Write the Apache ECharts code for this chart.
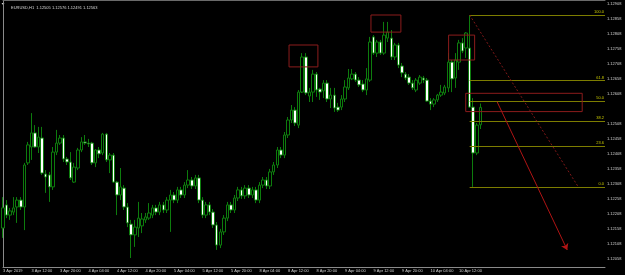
<!DOCTYPE html>
<html lang="en">
<head>
<meta charset="UTF-8">
<title>EURUSD,H1</title>
<style>
  html, body { margin: 0; padding: 0; background: #000; }
  #main { width: 625px; height: 275px; }
</style>
</head>
<body>
<div id="main"></div>
<script src="https://cdn.jsdelivr.net/npm/echarts@6/dist/echarts.min.js"></script>
<script>
// hourly bars (MT4 order: open, high, low, close)
var opens = [
  1.12161, 1.12238, 1.12204, 1.12214, 1.12231, 1.12254, 1.12231, 1.12378, 1.12431, 1.12478,
  1.12431, 1.12461, 1.12341, 1.12338, 1.12298, 1.12414, 1.12444, 1.12461, 1.12391, 1.12381,
  1.12314, 1.12361, 1.12421, 1.12448, 1.12444, 1.12444, 1.12378, 1.12421, 1.12411, 1.12474,
  1.12388, 1.12404, 1.12314, 1.12271, 1.12294, 1.12231, 1.12174, 1.12138, 1.12161, 1.12168,
  1.12188, 1.12194, 1.12204, 1.12228, 1.12214, 1.12238, 1.12221, 1.12254, 1.12271, 1.12254,
  1.12288, 1.12271, 1.12304, 1.12321, 1.12301, 1.12328, 1.12254, 1.12204, 1.12238, 1.12214,
  1.12171, 1.12104, 1.12148, 1.12194, 1.12238, 1.12221, 1.12261, 1.12288, 1.12268, 1.12294,
  1.12271, 1.12288, 1.12254, 1.12304, 1.12321, 1.12301, 1.12348, 1.12371, 1.12421, 1.12404,
  1.12471, 1.12521, 1.12554, 1.12504, 1.12614, 1.12731, 1.12601, 1.12614, 1.12674, 1.12624,
  1.12618, 1.12644, 1.12591, 1.12604, 1.12564, 1.12564, 1.12591, 1.12628, 1.12658, 1.12674,
  1.12654, 1.12641, 1.12621, 1.12654, 1.12798, 1.12744, 1.12781, 1.12744, 1.12794, 1.12794,
  1.12731, 1.12771, 1.12701, 1.12674, 1.12664, 1.12644, 1.12621, 1.12644, 1.12661, 1.12654,
  1.12584, 1.12574, 1.12588, 1.12604, 1.12611, 1.12628, 1.12714, 1.12661, 1.12714, 1.12778,
  1.12761, 1.12761, 1.12564, 1.12411, 1.12505
];
var highs = [
  1.12264, 1.12254, 1.12228, 1.12264, 1.12264, 1.12264, 1.12378, 1.12448, 1.12544, 1.12504,
  1.12498, 1.12498, 1.12354, 1.12348, 1.12431, 1.12488, 1.12471, 1.12471, 1.12398, 1.12414,
  1.12378, 1.12428, 1.12464, 1.12471, 1.12458, 1.12448, 1.12424, 1.12431, 1.12478, 1.12478,
  1.12411, 1.12411, 1.12318, 1.12361, 1.12304, 1.12244, 1.12188, 1.12188, 1.12248, 1.12211,
  1.12211, 1.12244, 1.12238, 1.12238, 1.12248, 1.12248, 1.12264, 1.12288, 1.12281, 1.12298,
  1.12298, 1.12314, 1.12354, 1.12331, 1.12338, 1.12338, 1.12264, 1.12248, 1.12248, 1.12224,
  1.12181, 1.12158, 1.12204, 1.12248, 1.12248, 1.12271, 1.12298, 1.12298, 1.12304, 1.12304,
  1.12298, 1.12298, 1.12314, 1.12331, 1.12331, 1.12358, 1.12381, 1.12431, 1.12431, 1.12481,
  1.12531, 1.12571, 1.12564, 1.12621, 1.12744, 1.12744, 1.12628, 1.12688, 1.12681, 1.12628,
  1.12654, 1.12654, 1.12628, 1.12628, 1.12578, 1.12604, 1.12654, 1.12691, 1.12691, 1.12681,
  1.12664, 1.12654, 1.12694, 1.12798, 1.12804, 1.12788, 1.12788, 1.12848, 1.12848, 1.12821,
  1.12778, 1.12778, 1.12711, 1.12681, 1.12674, 1.12654, 1.12661, 1.12671, 1.12668, 1.12661,
  1.12594, 1.12594, 1.12608, 1.12638, 1.12638, 1.12744, 1.12721, 1.12744, 1.12788, 1.12794,
  1.12814, 1.12871, 1.12594, 1.12511, 1.12576
];
var lows = [
  1.12128, 1.12194, 1.12188, 1.12204, 1.12178, 1.12221, 1.12154, 1.12371, 1.12388, 1.12428,
  1.12411, 1.12338, 1.12278, 1.12248, 1.12288, 1.12404, 1.12438, 1.12381, 1.12371, 1.12321,
  1.12311, 1.12354, 1.12414, 1.12438, 1.12431, 1.12371, 1.12364, 1.12394, 1.12404, 1.12381,
  1.12344, 1.12311, 1.12204, 1.12254, 1.12221, 1.12164, 1.12061, 1.12098, 1.12131, 1.12144,
  1.12178, 1.12188, 1.12194, 1.12204, 1.12204, 1.12211, 1.12211, 1.12148, 1.12244, 1.12244,
  1.12261, 1.12261, 1.12294, 1.12291, 1.12291, 1.12244, 1.12194, 1.12194, 1.12204, 1.12161,
  1.12088, 1.12094, 1.12138, 1.12184, 1.12211, 1.12211, 1.12251, 1.12258, 1.12258, 1.12261,
  1.12261, 1.12244, 1.12244, 1.12294, 1.12291, 1.12291, 1.12338, 1.12361, 1.12394, 1.12394,
  1.12461, 1.12511, 1.12501, 1.12494, 1.12611, 1.12604, 1.12581, 1.12581, 1.12598, 1.12588,
  1.12594, 1.12581, 1.12561, 1.12548, 1.12548, 1.12554, 1.12581, 1.12621, 1.12654, 1.12648,
  1.12631, 1.12614, 1.12604, 1.12648, 1.12738, 1.12731, 1.12738, 1.12738, 1.12781, 1.12721,
  1.12721, 1.12694, 1.12664, 1.12654, 1.12638, 1.12621, 1.12614, 1.12638, 1.12644, 1.12581,
  1.12554, 1.12564, 1.12581, 1.12598, 1.12604, 1.12614, 1.12614, 1.12628, 1.12688, 1.12744,
  1.12728, 1.12561, 1.12298, 1.12404, 1.12491
];
var closes = [
  1.12228, 1.12204, 1.12218, 1.12228, 1.12254, 1.12231, 1.12371, 1.12438, 1.12478, 1.12431,
  1.12464, 1.12344, 1.12331, 1.12298, 1.12414, 1.12444, 1.12461, 1.12391, 1.12381, 1.12328,
  1.12364, 1.12421, 1.12448, 1.12444, 1.12441, 1.12378, 1.12421, 1.12408, 1.12474, 1.12388,
  1.12404, 1.12314, 1.12271, 1.12298, 1.12231, 1.12178, 1.12138, 1.12164, 1.12194, 1.12191,
  1.12198, 1.12211, 1.12228, 1.12214, 1.12238, 1.12221, 1.12254, 1.12271, 1.12254, 1.12288,
  1.12271, 1.12304, 1.12321, 1.12301, 1.12328, 1.12254, 1.12204, 1.12238, 1.12214, 1.12171,
  1.12104, 1.12148, 1.12194, 1.12238, 1.12221, 1.12261, 1.12288, 1.12268, 1.12294, 1.12271,
  1.12288, 1.12254, 1.12304, 1.12321, 1.12301, 1.12348, 1.12371, 1.12421, 1.12404, 1.12471,
  1.12521, 1.12554, 1.12511, 1.12614, 1.12731, 1.12611, 1.12614, 1.12674, 1.12621, 1.12614,
  1.12644, 1.12591, 1.12604, 1.12561, 1.12554, 1.12591, 1.12631, 1.12661, 1.12674, 1.12654,
  1.12638, 1.12621, 1.12658, 1.12781, 1.12744, 1.12781, 1.12744, 1.12804, 1.12814, 1.12731,
  1.12771, 1.12704, 1.12678, 1.12661, 1.12644, 1.12628, 1.12654, 1.12664, 1.12654, 1.12584,
  1.12574, 1.12588, 1.12604, 1.12614, 1.12631, 1.12714, 1.12658, 1.12721, 1.12778, 1.12751,
  1.12811, 1.12564, 1.12411, 1.12504, 1.12563
];

// time axis: one label every 8 bars
var timeLabels = ['3 Apr 2019', '3 Apr 12:00', '3 Apr 20:00', '4 Apr 04:00', '4 Apr 12:00',
  '4 Apr 20:00', '5 Apr 04:00', '5 Apr 12:00', '5 Apr 20:00', '8 Apr 04:00', '8 Apr 12:00',
  '8 Apr 20:00', '9 Apr 04:00', '9 Apr 12:00', '9 Apr 20:00', '10 Apr 04:00', '10 Apr 12:00'];
var priceLabels = [1.12908, 1.12858, 1.12808, 1.12758, 1.12708, 1.12658, 1.12608,
  1.12508, 1.12458, 1.12408, 1.12358, 1.12308, 1.12258, 1.12208, 1.12158, 1.12108, 1.12058];

// fibonacci retracement drawn from the bar 131 high to the bar 132 low
var fibHigh = 1.12871, fibLow = 1.12298;
var fibRatios = [100.0, 61.8, 50.0, 38.2, 23.6, 0.0];

// drawn objects, in bar index / price units
var boxes = [
  [80.3, 88.4, 1.12771, 1.12698],
  [103.3, 111.7, 1.12871, 1.12814],
  [125.1, 132.4, 1.12804, 1.12721],
  [129.9, 162.6, 1.12610, 1.12549]
];
var arrowLine = [[138.7, 1.12582], [158.4, 1.12088]];

var nSlots = 170; // visible bar slots incl. the empty right shift
var cats = [];
for (var i = 0; i < nSlots; i++) cats.push(String(i));

var candles = opens.map(function (o, i) {
  return [o, closes[i], lows[i], highs[i]];
});

var last = opens.length - 1;
var header = 'EURUSD,H1  ' + opens[last].toFixed(5) + ' ' + highs[last].toFixed(5) + ' ' +
  lows[last].toFixed(5) + ' ' + closes[last].toFixed(5);

var boxLines = boxes.map(function (b) {
  return { coords: [[b[0], b[2]], [b[1], b[2]], [b[1], b[3]], [b[0], b[3]], [b[0], b[2]]] };
});

var fibLines = fibRatios.map(function (r) {
  var v = fibLow + (fibHigh - fibLow) * r / 100;
  return { coords: [[131, v], [nSlots - 1, v]], label: { formatter: r.toFixed(1) } };
});

var font = 'Liberation Sans';
var green = '#0d7c0d';

var chart = echarts.init(document.getElementById('main'));
chart.setOption({
  backgroundColor: '#000',
  animation: false,
  title: {
    text: header,
    left: 6, top: 1,
    textStyle: { color: '#d8d8d8', fontSize: 4, fontWeight: 'normal', fontFamily: font }
  },
  graphic: [{
    type: 'polygon', shape: { points: [[1.5, 3], [4.5, 3], [3, 5]] }, style: { fill: '#d8d8d8' }
  }],
  grid: { left: 0.8, right: 20, top: 0, bottom: 8 },
  xAxis: [{
    type: 'category',
    data: cats,
    boundaryGap: false,
    axisLine: { lineStyle: { color: '#8a8a8a', width: 1 } },
    axisTick: { show: false },
    splitLine: { show: false },
    axisLabel: {
      interval: function (i) { return i % 8 === 0 && i / 8 < timeLabels.length; },
      formatter: function (v, i) { return timeLabels[i / 8] || ''; },
      align: 'left', margin: 2,
      color: '#d0d0d0', fontSize: 4, fontFamily: font
    }
  }, {
    type: 'value', min: 0, max: nSlots - 1, position: 'top',
    axisLine: { show: true, onZero: false, lineStyle: { color: '#6a6a6a' } },
    axisTick: { show: false }, axisLabel: { show: false }, splitLine: { show: false }
  }],
  yAxis: {
    type: 'value', position: 'right', scale: true,
    min: 1.12031, max: 1.12921,
    axisLine: { show: true, lineStyle: { color: '#8a8a8a' } },
    axisTick: { show: false },
    splitLine: { show: false },
    axisLabel: {
      customValues: priceLabels,
      formatter: function (v) { return v.toFixed(5); },
      margin: 2, color: '#d0d0d0', fontSize: 4, fontFamily: font
    }
  },
  series: [{
    type: 'candlestick',
    data: candles,
    barWidth: 3,
    itemStyle: {
      color: '#000', color0: '#ffffff',
      borderColor: green, borderColor0: green, borderWidth: 1
    },
    markLine: {
      silent: true, symbol: 'none',
      lineStyle: { color: '#7a7a7a', width: 1, type: 'solid' },
      label: {
        position: 'end', distance: 1,
        formatter: closes[last].toFixed(5),
        backgroundColor: '#ffffff', color: '#000', padding: [1, 1, 0, 1],
        fontSize: 4, fontFamily: font
      },
      data: [{ yAxis: closes[last] }]
    }
  }, {
    type: 'lines', coordinateSystem: 'cartesian2d', xAxisIndex: 1, yAxisIndex: 0,
    silent: true, z: 3,
    lineStyle: { color: '#7d7d00', width: 1, opacity: 1 },
    label: { show: true, position: 'insideEndTop', distance: 1, color: '#c8c800', fontSize: 4, fontFamily: font },
    data: fibLines
  }, {
    type: 'lines', coordinateSystem: 'cartesian2d', xAxisIndex: 1, yAxisIndex: 0,
    polyline: true, silent: true, z: 4,
    lineStyle: { color: '#8c1c1c', width: 1, opacity: 1 },
    data: boxLines
  }, {
    type: 'lines', coordinateSystem: 'cartesian2d', xAxisIndex: 1, yAxisIndex: 0,
    silent: true, z: 4,
    lineStyle: { color: '#801818', width: 1, type: [2, 2], opacity: 1 },
    data: [{ coords: [[131, fibHigh], [161.5, fibLow]] }]
  }, {
    type: 'lines', coordinateSystem: 'cartesian2d', xAxisIndex: 1, yAxisIndex: 0,
    silent: true, z: 4,
    symbol: ['none', 'arrow'], symbolSize: 6,
    lineStyle: { color: '#b01414', width: 1, opacity: 1 },
    data: [{ coords: arrowLine }]
  }]
});
</script>
</body>
</html>
